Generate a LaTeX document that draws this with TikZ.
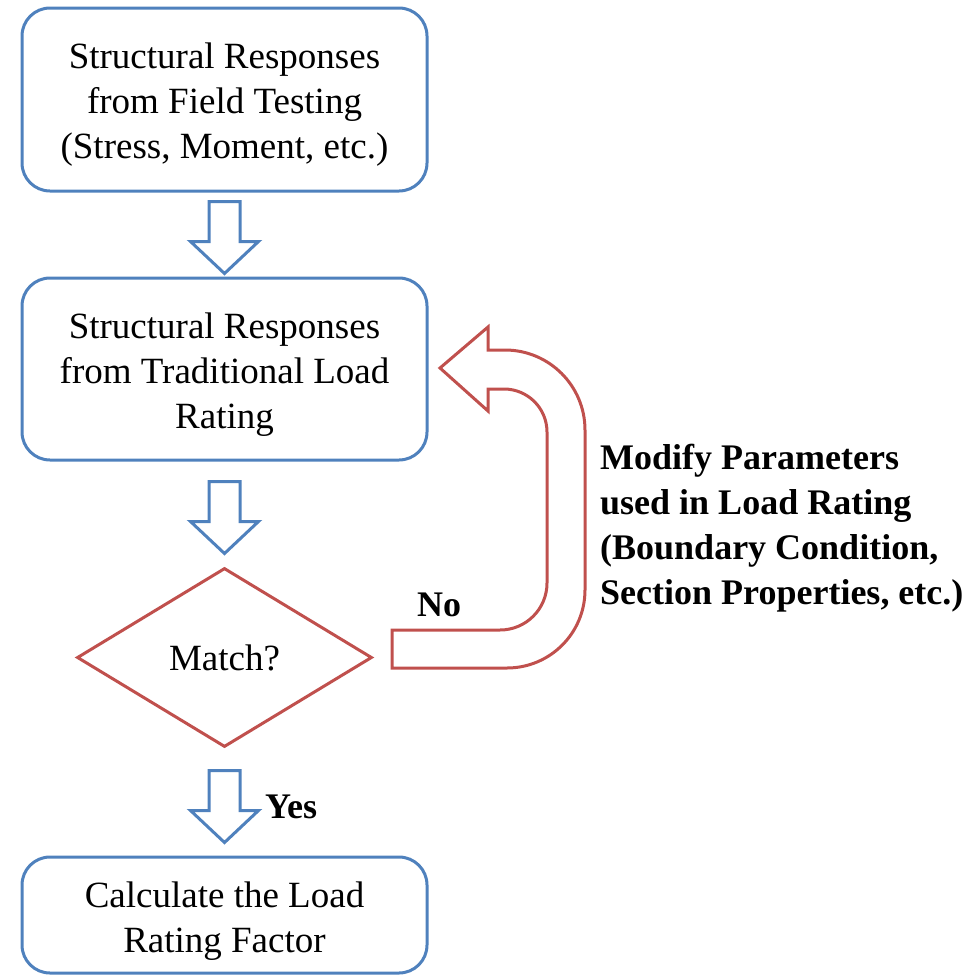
\documentclass[tikz,border=0pt]{standalone}
\usepackage{fontspec}
\setmainfont{Liberation Serif}
\usetikzlibrary{shapes.geometric,calc}
\definecolor{boxblue}{HTML}{4F81BD}
\definecolor{loopred}{HTML}{C0504D}
\begin{document}
\begin{tikzpicture}[x=1pt,y=-1pt,
  box/.style={draw=boxblue, line width=3pt, rounded corners=28pt, minimum width=405pt, inner sep=0pt},
  txt/.style={align=center, font=\fontsize{37}{45}\selectfont, inner sep=0pt},
  btxt/.style={align=left, font=\fontsize{36}{45}\selectfont\bfseries, inner sep=0pt},
  arrowline/.style={draw=boxblue, line width=3pt, fill=white, line join=miter},
  blockarrow/.pic={\path[arrowline] (-15.5,0) -- (15.5,0) -- (15.5,40) -- (34,40) -- (0,72) -- (-34,40) -- (-15.5,40) -- cycle;}
]
\useasboundingbox (0,0) rectangle (963,975);
% boxes
\node[box, minimum height=183pt] (b1) at (224.5,99.5) {};
\node[txt] (t1) at (224.5,104.5) {Structural Responses\\from Field Testing\\(Stress, Moment, etc.)};
\node[box, minimum height=182pt] (b2) at (224.5,369) {};
\node[txt] (t2) at (224.5,374.5) {Structural Responses\\from Traditional Load\\Rating};
\node[box, minimum height=116pt] (b3) at (224.5,915) {};
\node[txt] (t3) at (224.5,921) {Calculate the Load\\Rating Factor};
% decision
\node[draw=loopred, line width=3pt, shape=diamond, minimum width=295pt, minimum height=179pt, inner sep=0pt,
      font=\fontsize{37}{45}\selectfont] (d) at (224.5,657.5) {Match?};
% block arrows
\pic at ($(b1.south)+(0,9)$) {blockarrow};
\pic at ($(b2.south)+(0,20)$) {blockarrow};
\pic at ($(d.south)+(0,22)$) {blockarrow};
% loop-back arrow
\draw[draw=loopred, line width=3pt, line join=miter]
  (440,368) -- (488,327) -- (488,350) -- (505,350)
  arc[start angle=-90, end angle=0, radius=80] -- (585,590)
  arc[start angle=0, end angle=90, radius=78] -- (392,668) -- (392,630) -- (500,630)
  arc[start angle=90, end angle=0, radius=47] -- (547,432)
  arc[start angle=0, end angle=-90, radius=43] -- (488,389) -- (488,411) -- cycle;
% labels
\node[btxt, anchor=base west] (no) at (417,616) {No};
\node[btxt, anchor=base west] (yes) at (265,818) {Yes};
\node[btxt, anchor=west] (mod) at (600,528.5) {Modify Parameters\\used in Load Rating\\(Boundary Condition,\\Section Properties, etc.)};
\end{tikzpicture}
\end{document}
